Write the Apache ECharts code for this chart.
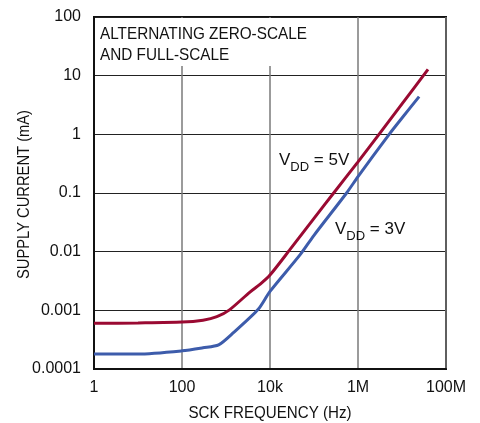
<!DOCTYPE html>
<html><head><meta charset="utf-8">
<script src="https://cdn.jsdelivr.net/npm/echarts@6/dist/echarts.min.js"></script>
<style>html,body{margin:0;padding:0;background:#fff}#c{width:480px;height:423px}</style>
</head><body><div id="c"></div>
<script>
// SCK frequency (Hz) and supply current (mA)
const freq5V = [1, 10, 100, 300, 620, 1200, 3500, 6000, 10000, 28000, 100000, 280000, 1000000, 3000000, 10000000, 39000000];
const curr5V = [0.0006, 0.00061, 0.00063, 0.00068, 0.00078, 0.00102, 0.00205, 0.0028, 0.004, 0.0107, 0.037, 0.1, 0.34, 1.0, 3.3, 12.8];
const freq3V = [1, 10, 100, 300, 680, 1500, 5400, 10000, 48000, 100000, 550000, 1000000, 5100000, 10000000, 24500000];
const curr3V = [0.00018, 0.00018, 0.000204, 0.00023, 0.000257, 0.00042, 0.00104, 0.0021, 0.0088, 0.019, 0.1, 0.19, 1.0, 1.9, 4.4];
const xTickLabels = {1: '1', 100: '100', 10000: '10k', 1000000: '1M', 100000000: '100M'};
const yTickLabels = {0.0001: '0.0001', 0.001: '0.001', 0.01: '0.01', 0.1: '0.1', 1: '1', 10: '10', 100: '100'};
const xName = 'SCK FREQUENCY (Hz)';
const yName = 'SUPPLY CURRENT (mA)';

const FONT = '"Liberation Sans Narrow", "Arial Narrow", "Liberation Sans", sans-serif';
const chart = echarts.init(document.getElementById('c'), null, {renderer: 'canvas'});
function lbl(map, v) {
  for (const k in map) { if (Math.abs(Math.log10(+k) - Math.log10(v)) < 1e-6) return map[k]; }
  return '';
}
const richV = {
  a: {fontFamily: FONT, fontSize: 17, fill: '#111', lineHeight: 20, verticalAlign: 'bottom'},
  s: {fontFamily: FONT, fontSize: 13, fill: '#111', lineHeight: 20, verticalAlign: 'bottom', padding: [0, 0, -5, 0]}
};
chart.setOption({
  animation: false,
  grid: {left: 94, right: 34, top: 17, bottom: 54, show: true, borderColor: '#111', borderWidth: 2, backgroundColor: '#fff'},
  xAxis: {
    type: 'log', logBase: 10, min: 1, max: 100000000, interval: 2,
    axisLine: {show: true, lineStyle: {color: '#111', width: 2}},
    axisTick: {show: false},
    axisLabel: {fontFamily: FONT, fontSize: 16, color: '#111', margin: 11, formatter: v => lbl(xTickLabels, v)},
    splitLine: {show: true, lineStyle: {color: '#7a7a7a', width: 1.5}},
    minorTick: {show: false}
  },
  yAxis: {
    type: 'log', logBase: 10, min: 0.0001, max: 100,
    axisLine: {show: true, lineStyle: {color: '#111', width: 2}},
    axisTick: {show: false},
    axisLabel: {fontFamily: FONT, fontSize: 16, color: '#111', margin: 13, formatter: v => lbl(yTickLabels, v)},
    splitLine: {show: true, lineStyle: {color: '#222', width: 1}}
  },
  series: [
    {name: 'VDD = 5V', type: 'line', smooth: 0.25, showSymbol: false, z: 3,
     data: freq5V.map((f, i) => [f, curr5V[i]]),
     lineStyle: {color: '#9a0a32', width: 3}},
    {name: 'VDD = 3V', type: 'line', smooth: 0.25, showSymbol: false, z: 3,
     data: freq3V.map((f, i) => [f, curr3V[i]]),
     lineStyle: {color: '#3d5cab', width: 3}}
  ],
  graphic: [
    {type: 'rect', z: 50, shape: {x: 95, y: 18, width: 215, height: 48}, style: {fill: '#fff'}},
    {type: 'text', z: 51, x: 100, y: 24, scaleX: 0.9, style: {text: 'ALTERNATING ZERO-SCALE\nAND FULL-SCALE', font: '17px ' + FONT, fill: '#111', lineHeight: 21}},
    {type: 'text', z: 51, left: 279, top: 152, style: {text: '{a|V}{s|DD}{a| = 5V}', fill: '#111', rich: richV}},
    {type: 'text', z: 51, left: 335, top: 221, style: {text: '{a|V}{s|DD}{a| = 3V}', fill: '#111', rich: richV}},
    {type: 'text', z: 51, x: 270, y: 413, scaleX: 0.89, style: {text: xName, font: '17px ' + FONT, fill: '#111', align: 'center', verticalAlign: 'middle'}},
    {type: 'text', z: 51, x: 25, y: 194.5, rotation: Math.PI / 2, scaleX: 0.92, style: {text: yName, font: '16px ' + FONT, fill: '#111', align: 'center', verticalAlign: 'middle'}}
  ]
});
</script></body></html>
